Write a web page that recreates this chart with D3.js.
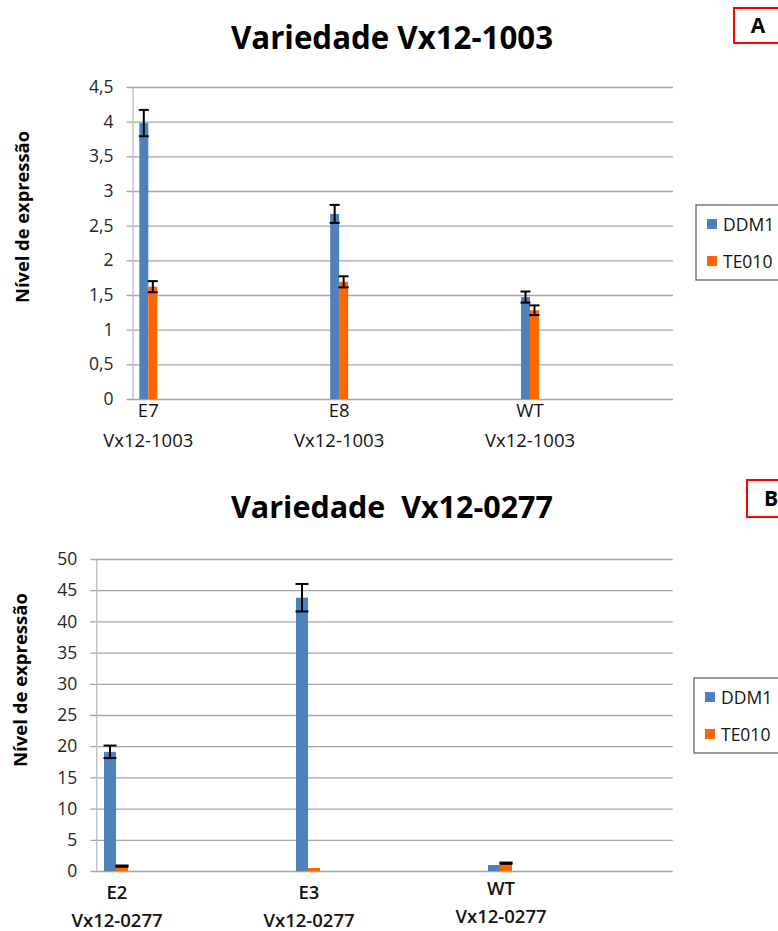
<!DOCTYPE html>
<html>
<head>
<meta charset="utf-8">
<script src="https://cdn.jsdelivr.net/npm/d3@7"></script>
<style>
  html, body { margin: 0; padding: 0; background: #fff; }
  svg { display: block; font-family: "Open Sans", "DejaVu Sans", sans-serif; }
</style>
</head>
<body>
<svg id="chart" width="778" height="931"></svg>
<script>
// ---------------- DATA ----------------
const seriesNames = ["DDM1", "TE010"];
const seriesColors = ["#4f81bd", "#ff6600"];

// Panel A
const titleA = "Variedade Vx12-1003";
const catsA = ["E7", "E8", "WT"];
const subA = "Vx12-1003";
const ddm1A = [3.98, 2.67, 1.47];
const ddm1ErrA = [0.19, 0.13, 0.08];
const te010A = [1.62, 1.69, 1.28];
const te010ErrA = [0.08, 0.08, 0.07];
const ticksA = [0, 0.5, 1, 1.5, 2, 2.5, 3, 3.5, 4, 4.5];

// Panel B
const titleB = "Variedade\u00a0 Vx12-0277";
const catsB = ["E2", "E3", "WT"];
const subB = "Vx12-0277";
const ddm1B = [19.1, 43.8, 0.96];
const ddm1ErrB = [1.0, 2.2, 0];
const te010B = [0.78, 0.48, 1.25];
const te010ErrB = [0.1, 0, 0.1];
const ticksB = [0, 5, 10, 15, 20, 25, 30, 35, 40, 45, 50];

const yLabel = "Nível de expressão";

// ---------------- DRAW ----------------
const svg = d3.select("#chart");
const fmt = v => String(v).replace(".", ",");

function fitText(sel, width) {
  const node = sel.node();
  const fs = parseFloat(sel.attr("font-size"));
  const w = node.getComputedTextLength();
  sel.attr("font-size", (fs * width / w).toFixed(2));
}

function panel(cfg) {
  const g = svg.append("g");
  const y = d3.scaleLinear().domain([0, cfg.ymax]).range([cfg.y0, cfg.yTop]);
  const xc = d3.scalePoint().domain(cfg.cats).range([cfg.c0, cfg.c2]);
  const xs = d3.scaleBand().domain(seriesNames).range([-cfg.bw, cfg.bw]);

  // title
  const t = g.append("text").attr("x", cfg.titleX).attr("y", cfg.titleY)
    .attr("text-anchor", "middle").attr("font-weight", "bold")
    .attr("font-size", 30).attr("fill", "#000").text(cfg.title);
  fitText(t, cfg.titleW);

  // gridlines + tick labels
  const axis = d3.axisLeft(y).tickValues(cfg.ticks).tickFormat(fmt)
    .tickSize(cfg.right - cfg.left + 6.5).tickPadding(13);
  const ag = g.append("g").attr("transform", `translate(${cfg.right},0)`).call(axis);
  ag.select(".domain").remove();
  ag.selectAll(".tick line").attr("stroke", "#a6a6a6").attr("stroke-width", 1.3);
  ag.selectAll(".tick text").attr("font-size", 17.5).attr("fill", "#262626")
    .attr("font-family", "\"Open Sans\", sans-serif");

  // y axis line
  g.append("line").attr("x1", cfg.left).attr("x2", cfg.left)
    .attr("y1", cfg.yTop).attr("y2", cfg.y0)
    .attr("stroke", "#bcbcbc").attr("stroke-width", 1.3);

  // bars
  const series = [
    { name: "DDM1", vals: cfg.ddm1, errs: cfg.ddm1Err, color: seriesColors[0] },
    { name: "TE010", vals: cfg.te010, errs: cfg.te010Err, color: seriesColors[1] }
  ];
  series.forEach(s => {
    const rows = cfg.cats.map((c, i) => ({ c, v: s.vals[i], e: s.errs[i] }));
    g.append("g").selectAll("rect").data(rows).join("rect")
      .attr("x", d => xc(d.c) + xs(s.name))
      .attr("width", xs.bandwidth())
      .attr("y", d => y(d.v))
      .attr("height", d => y(0) - y(d.v))
      .attr("fill", s.color);
    const eg = g.append("g").attr("stroke", "#000").attr("stroke-width", 2);
    rows.filter(d => d.e > 0).forEach(d => {
      const cx = xc(d.c) + xs(s.name) + xs.bandwidth() / 2;
      const hw = xs.bandwidth() / 2 + 0.5;
      eg.append("line").attr("x1", cx).attr("x2", cx).attr("y1", y(d.v + d.e)).attr("y2", y(d.v - d.e));
      eg.append("line").attr("x1", cx - hw).attr("x2", cx + hw).attr("y1", y(d.v + d.e)).attr("y2", y(d.v + d.e));
      eg.append("line").attr("x1", cx - hw).attr("x2", cx + hw).attr("y1", y(d.v - d.e)).attr("y2", y(d.v - d.e));
    });
  });

  // category labels
  cfg.cats.forEach((c, i) => {
    const dy = cfg.lblDy[i];
    g.append("text").attr("x", xc(c) + cfg.lblDx).attr("y", cfg.lbl1Y + dy)
      .attr("text-anchor", "middle").attr("font-size", cfg.lblSize).attr("font-weight", cfg.lblWeight)
      .attr("fill", "#111").text(c);
    g.append("text").attr("x", xc(c) + cfg.lblDx).attr("y", cfg.lbl2Y + dy)
      .attr("text-anchor", "middle").attr("font-size", cfg.lblSize).attr("font-weight", cfg.lblWeight)
      .attr("fill", "#111").text(cfg.sub);
  });

  // y label
  const yl = g.append("text")
    .attr("transform", `translate(${cfg.ylX},${cfg.ylY}) rotate(-90)`)
    .attr("text-anchor", "middle").attr("font-weight", "bold")
    .attr("font-size", 18).attr("fill", "#000").text(yLabel);
  fitText(yl, cfg.ylW);

  // legend
  const lg = g.append("g").attr("transform", `translate(${cfg.legX},${cfg.legY})`);
  lg.append("rect").attr("x", 0).attr("y", 0).attr("width", 120).attr("height", 75)
    .attr("fill", "#fff").attr("stroke", "#555").attr("stroke-width", 1.2);
  seriesNames.forEach((n, i) => {
    lg.append("rect").attr("x", 11).attr("y", 14 + i * 37).attr("width", 10).attr("height", 10)
      .attr("fill", seriesColors[i]);
    lg.append("text").attr("x", 27).attr("y", 25.5 + i * 37).attr("font-size", 17.5)
      .attr("fill", "#111").text(n);
  });

  // panel letter box
  g.append("rect").attr("x", cfg.boxX).attr("y", cfg.boxY).attr("width", 70).attr("height", cfg.boxH)
    .attr("fill", "#fff").attr("stroke", "#ff0000").attr("stroke-width", 2);
  g.append("text").attr("x", cfg.boxX + 24).attr("y", cfg.boxY + cfg.boxH / 2 + 7)
    .attr("text-anchor", "middle").attr("font-size", 21).attr("font-weight", "bold")
    .attr("fill", "#000").text(cfg.letter);
}

panel({
  title: titleA, titleX: 392, titleY: 49, titleW: 322,
  cats: catsA, sub: subA, ymax: 4.5, ticks: ticksA,
  ddm1: ddm1A, ddm1Err: ddm1ErrA, te010: te010A, te010Err: te010ErrA,
  left: 133, right: 673, yTop: 87, y0: 399,
  c0: 148.3, c2: 530, bw: 9,
  lblDx: 0, lbl1Y: 417, lbl2Y: 447, lblDy: [0, 0, 0], lblWeight: "normal", lblSize: 18.5,
  ylX: 29, ylY: 217, ylW: 172,
  legX: 696, legY: 205,
  boxX: 734, boxY: 8, boxH: 35, letter: "A"
});

panel({
  title: titleB, titleX: 392, titleY: 518, titleW: 322,
  cats: catsB, sub: subB, ymax: 50, ticks: ticksB,
  ddm1: ddm1B, ddm1Err: ddm1ErrB, te010: te010B, te010Err: te010ErrB,
  left: 96.7, right: 672.7, yTop: 559, y0: 871,
  c0: 116, c2: 500, bw: 12,
  lblDx: 1, lbl1Y: 899, lbl2Y: 927, lblDy: [0, 0, -4], lblWeight: "600", lblSize: 18.5,
  ylX: 27, ylY: 680, ylW: 174,
  legX: 694, legY: 678,
  boxX: 747, boxY: 480, boxH: 37, letter: "B"
});
</script>
</body>
</html>
